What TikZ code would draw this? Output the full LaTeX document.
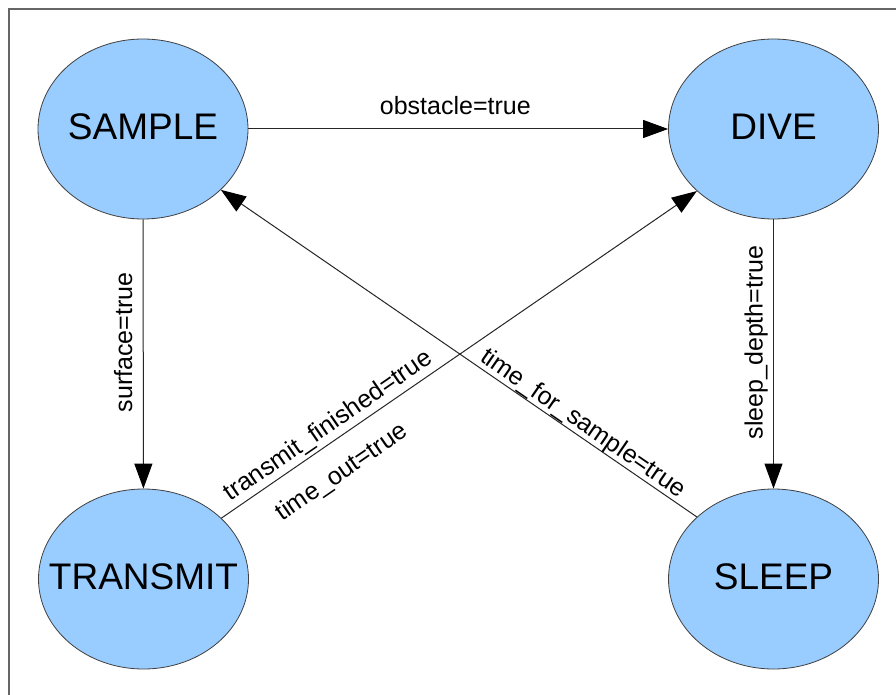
\documentclass[tikz,border=0pt]{standalone}
\usepackage{fontspec}
\setmainfont{Liberation Sans}
\usetikzlibrary{shapes.geometric,arrows.meta,calc}
\definecolor{stateblue}{HTML}{99CCFF}
\definecolor{framegray}{HTML}{666666}
\begin{document}
\begin{tikzpicture}[x=1pt,y=-1pt,
  state/.style={ellipse, draw=black!75, line width=0.8pt, fill=stateblue,
    minimum width=210pt, minimum height=180pt, inner sep=0pt},
  statetext/.style={font=\fontsize{37}{44}\selectfont, inner sep=0pt, yshift=2pt},
  lbl/.style={font=\fontsize{25}{30}\selectfont, inner sep=0pt, text depth=0pt},
  conn/.style={line width=1pt, draw=black!85, -{Triangle[length=25pt,width=18pt,black]}},
  connr/.style={line width=1pt, draw=black!85, {Triangle[length=25pt,width=18pt,black]}-},
]
\useasboundingbox (0,0) rectangle (896,695);
\fill[white] (0,0) rectangle (896,695);
\draw[line width=1.8pt, draw=framegray] (896,9) -- (9,9) -- (9,695);

\node[state] (SAMPLE) at (143,129) {};
\node[statetext] (SAMPLEt) at (SAMPLE) {SAMPLE};
\node[state] (DIVE) at (773.5,129) {};
\node[statetext] (DIVEt) at (DIVE) {DIVE};
\node[state] (TRANSMIT) at (143.5,579) {};
\node[statetext] (TRANSMITt) at (TRANSMIT) {TRANSMIT};
\node[state] (SLEEP) at (773.5,579) {};
\node[statetext] (SLEEPt) at (SLEEP) {SLEEP};

\draw[conn] (SAMPLE) -- node[lbl, pos=0.493, above=14pt] (L1) {obstacle=true} (DIVE);

\draw[conn] (SAMPLE) -- (TRANSMIT);
\node[lbl, rotate=90, anchor=base] (L2) at ($(SAMPLE.south)!0.457!(TRANSMIT.north)+(-11,0)$) {surface=true};

\draw[conn] (DIVE) -- (SLEEP);
\node[lbl, rotate=90, anchor=base] (L3) at ($(DIVE.south)!0.457!(SLEEP.north)+(-11,0)$) {sleep\_depth=true};

\draw[conn] (TRANSMIT.38.6) --
  node[lbl, sloped, pos=0.243, above=8pt] (L4) {transmit\_finished=true}
  node[lbl, sloped, pos=0.217, below=19pt] (L5) {time\_out=true}
  (DIVE.-141.4);

\draw[connr] (SAMPLE.-38.4) --
  node[lbl, sloped, pos=0.746, above=5pt] (L6) {time\_for\_sample=true}
  (SLEEP.141.4);
\end{tikzpicture}
\end{document}
